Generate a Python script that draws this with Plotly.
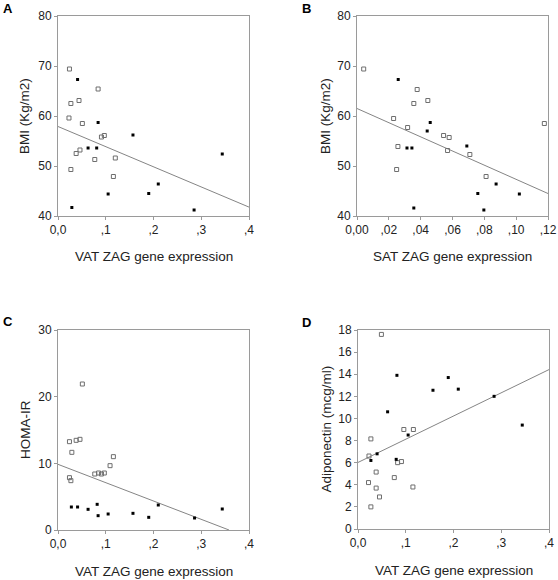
import plotly.graph_objects as go
import numpy as np

W, H = 558, 580

# ---------------- Data ----------------
# Panel A: VAT ZAG vs BMI
a_open_x = [0.024, 0.027, 0.044, 0.084, 0.023, 0.051, 0.091, 0.097, 0.046, 0.038, 0.077, 0.120, 0.116, 0.027]
a_open_y = [69.4, 62.5, 63.1, 65.4, 59.6, 58.5, 55.8, 56.1, 53.2, 52.5, 51.3, 51.6, 47.9, 49.3]
a_fill_x = [0.041, 0.084, 0.063, 0.081, 0.157, 0.344, 0.210, 0.190, 0.105, 0.029, 0.285]
a_fill_y = [67.3, 58.7, 53.6, 53.6, 56.2, 52.4, 46.4, 44.5, 44.4, 41.7, 41.2]
a_fit = (57.9, -40.3)  # intercept, slope

# Panel B: SAT ZAG vs BMI
b_open_x = [0.0042, 0.0378, 0.0445, 0.0357, 0.0230, 0.0318, 0.0544, 0.0579, 0.0569, 0.0709, 0.0257, 0.0249, 0.0811, 0.1177]
b_open_y = [69.4, 65.3, 63.1, 62.5, 59.5, 57.7, 56.1, 55.7, 53.1, 52.3, 53.9, 49.3, 47.9, 58.5]
b_fill_x = [0.0259, 0.0460, 0.0441, 0.0314, 0.0345, 0.0690, 0.0874, 0.0759, 0.1020, 0.0357, 0.0797]
b_fill_y = [67.3, 58.7, 57.0, 53.6, 53.6, 54.0, 46.4, 44.5, 44.4, 41.6, 41.2]
b_fit = (61.5, -141.7)

# Panel C: VAT ZAG vs HOMA-IR
c_open_x = [0.051, 0.024, 0.038, 0.046, 0.029, 0.116, 0.109, 0.077, 0.085, 0.091, 0.097, 0.024, 0.027]
c_open_y = [21.9, 13.25, 13.45, 13.6, 11.65, 11.0, 9.65, 8.4, 8.55, 8.4, 8.55, 7.85, 7.4]
c_fill_x = [0.028, 0.041, 0.063, 0.082, 0.084, 0.105, 0.157, 0.190, 0.210, 0.286, 0.344]
c_fill_y = [3.45, 3.45, 3.1, 3.85, 2.15, 2.4, 2.5, 1.9, 3.75, 1.8, 3.15]
c_fit = (9.85, -27.5)

# Panel D: VAT ZAG vs Adiponectin
d_open_x = [0.049, 0.027, 0.096, 0.116, 0.023, 0.083, 0.091, 0.038, 0.076, 0.022, 0.038, 0.115, 0.045, 0.027]
d_open_y = [17.6, 8.15, 9.0, 9.0, 6.6, 6.0, 6.1, 5.15, 4.65, 4.2, 3.7, 3.8, 2.9, 2.0]
d_fill_x = [0.0815, 0.189, 0.157, 0.210, 0.285, 0.062, 0.105, 0.344, 0.040, 0.027, 0.080]
d_fill_y = [13.9, 13.7, 12.55, 12.65, 12.0, 10.6, 8.5, 9.4, 6.8, 6.2, 6.3]
d_fit = (6.02, 21.0)

# Tick labels
vat_ticks = [0.0, 0.1, 0.2, 0.3, 0.4]
vat_labels = ["0,0", ",1", ",2", ",3", ",4"]
sat_ticks = [0.0, 0.02, 0.04, 0.06, 0.08, 0.10, 0.12]
sat_labels = ["0,00", ",02", ",04", ",06", ",08", ",10", ",12"]
bmi_ticks = [40, 50, 60, 70, 80]
homa_ticks = [0, 10, 20, 30]
adipo_ticks = [0, 2, 4, 6, 8, 10, 12, 14, 16, 18]

# ---------------- Layout ----------------
FONT = "Liberation Sans, Arial, sans-serif"
AXC = "#9a9a9a"

panels = [
    dict(letter="A", box=(58, 16, 249, 216), ox=a_open_x, oy=a_open_y, fx=a_fill_x, fy=a_fill_y,
         fit=a_fit, xr=[0, 0.4], yr=[40, 80], xt=vat_ticks, xl=vat_labels, yt=bmi_ticks,
         xtitle="VAT ZAG gene expression", ytitle="BMI (Kg/m2)", letter_pos=(8, 8)),
    dict(letter="B", box=(357, 16, 548, 216), ox=b_open_x, oy=b_open_y, fx=b_fill_x, fy=b_fill_y,
         fit=b_fit, xr=[0, 0.12], yr=[40, 80], xt=sat_ticks, xl=sat_labels, yt=bmi_ticks,
         xtitle="SAT ZAG gene expression", ytitle="BMI (Kg/m2)", letter_pos=(306, 8)),
    dict(letter="C", box=(58, 330, 249, 530), ox=c_open_x, oy=c_open_y, fx=c_fill_x, fy=c_fill_y,
         fit=c_fit, xr=[0, 0.4], yr=[0, 30], xt=vat_ticks, xl=vat_labels, yt=homa_ticks,
         xtitle="VAT ZAG gene expression", ytitle="HOMA-IR", letter_pos=(8, 321)),
    dict(letter="D", box=(358, 330, 549, 529), ox=d_open_x, oy=d_open_y, fx=d_fill_x, fy=d_fill_y,
         fit=d_fit, xr=[0, 0.4], yr=[0, 18], xt=vat_ticks, xl=vat_labels, yt=adipo_ticks,
         xtitle="VAT ZAG gene expression", ytitle="Adiponectin (mcg/ml)", letter_pos=(306, 322)),
]

fig = go.Figure()
layout = dict(
    template="none",
    width=W, height=H, margin=dict(l=0, r=0, t=0, b=0, pad=0, autoexpand=False),
    paper_bgcolor="white", plot_bgcolor="white", showlegend=False,
    font=dict(family=FONT, color="#222"),
)
annotations = []

for i, p in enumerate(panels, start=1):
    sfx = "" if i == 1 else str(i)
    xa, ya = "x" + sfx, "y" + sfx
    l, t, r, b = p["box"]
    layout["xaxis" + sfx] = dict(
        domain=[l / W, r / W], range=p["xr"], anchor=ya, automargin=False,
        tickvals=p["xt"], ticktext=p["xl"], ticks="outside", ticklen=3, tickcolor=AXC,
        showline=True, mirror=True, linecolor=AXC, linewidth=1, showgrid=False, zeroline=False,
        tickfont=dict(size=12, family=FONT, color="#222"),
    )
    layout["yaxis" + sfx] = dict(
        domain=[1 - b / H, 1 - t / H], range=p["yr"], anchor=xa, automargin=False,
        tickvals=p["yt"], ticks="outside", ticklen=3, tickcolor=AXC,
        showline=True, mirror=True, linecolor=AXC, linewidth=1, showgrid=False, zeroline=False,
        tickfont=dict(size=12, family=FONT, color="#222"),
    )
    b0, b1 = p["fit"]
    x0, x1 = p["xr"]
    if b1 < 0 and b0 + b1 * x1 < p["yr"][0]:
        x1 = (p["yr"][0] - b0) / b1
    lx = np.array([x0, x1])
    fig.add_trace(go.Scatter(x=lx, y=b0 + b1 * lx, mode="lines", xaxis=xa, yaxis=ya,
                             line=dict(color="#858585", width=1), hoverinfo="skip"))
    fig.add_trace(go.Scatter(x=p["ox"], y=p["oy"], mode="markers", xaxis=xa, yaxis=ya,
                             marker=dict(symbol="square-open", size=4, color="#6e6e6e",
                                         line=dict(width=1, color="#6e6e6e")), cliponaxis=False))
    fig.add_trace(go.Scatter(x=p["fx"], y=p["fy"], mode="markers", xaxis=xa, yaxis=ya,
                             marker=dict(symbol="square", size=3, color="black",
                                         line=dict(width=0)), cliponaxis=False))
    cx = (l + r) / 2
    annotations.append(dict(text=p["xtitle"], xref="paper", yref="paper",
                            x=cx / W, y=1 - (b + 41) / H, xanchor="center", yanchor="middle",
                            showarrow=False, font=dict(size=13.5, family=FONT, color="#222")))
    ytx = 25 if l < 200 else 326
    annotations.append(dict(text=p["ytitle"], xref="paper", yref="paper", textangle=-90,
                            x=ytx / W, y=1 - ((t + b) / 2) / H, xanchor="center", yanchor="middle",
                            showarrow=False, font=dict(size=13.5, family=FONT, color="#222")))
    lx_, ly_ = p["letter_pos"]
    annotations.append(dict(text="<b>" + p["letter"] + "</b>", xref="paper", yref="paper",
                            x=lx_ / W, y=1 - ly_ / H, xanchor="center", yanchor="middle",
                            showarrow=False, font=dict(size=13, family=FONT, color="black")))

layout["annotations"] = annotations
fig.update_layout(**layout)
fig.write_html("out.html", config={"displayModeBar": False},
               post_script="document.body.style.margin='0';document.body.style.overflow='hidden';")
